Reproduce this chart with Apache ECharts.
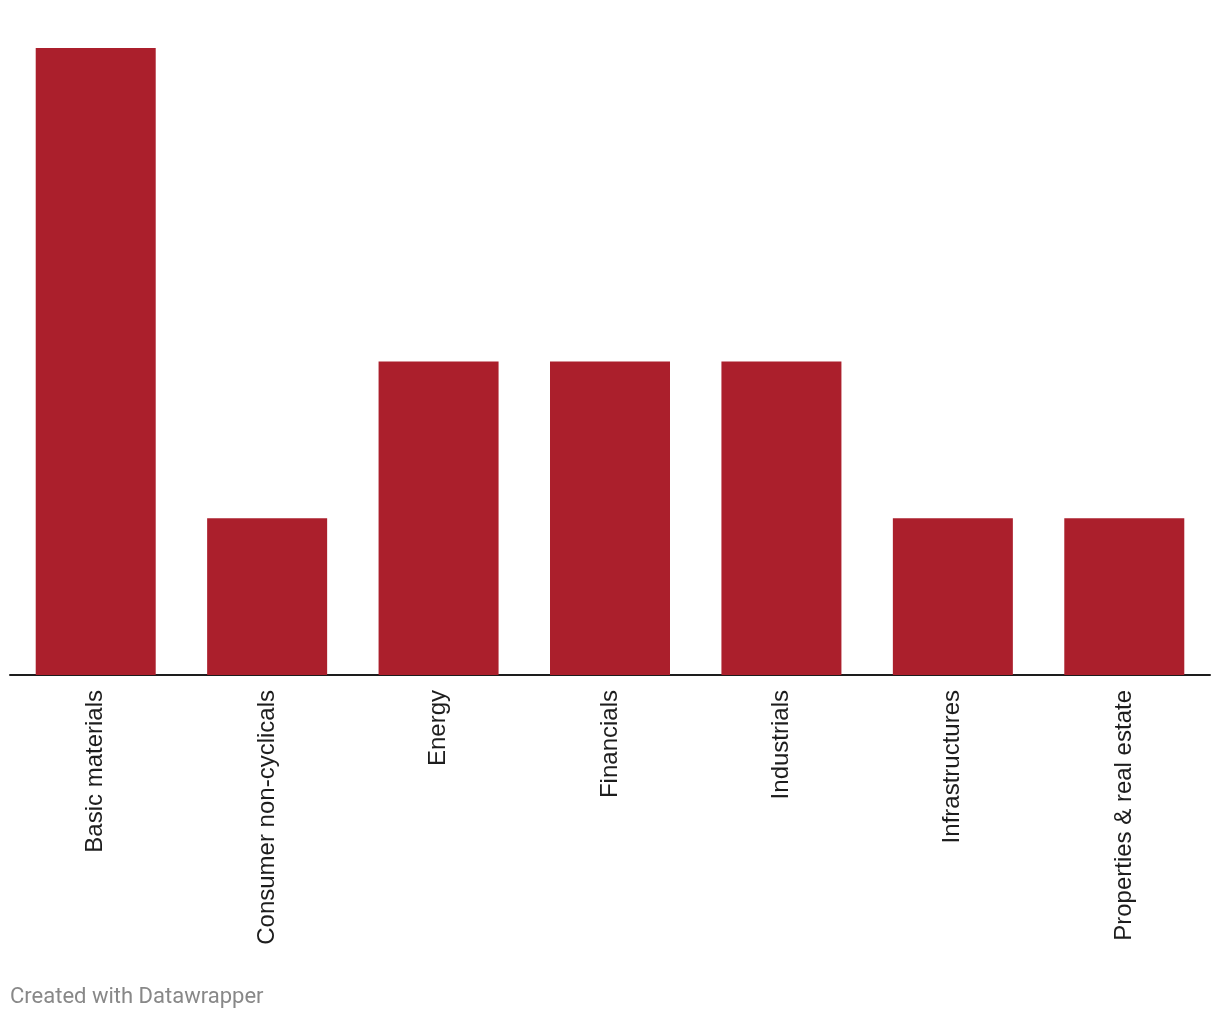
<!DOCTYPE html>
<html><head><meta charset="utf-8">
<script src="https://cdn.jsdelivr.net/npm/echarts@6/dist/echarts.min.js"></script>
<style>html,body{margin:0;padding:0;background:#fff}#c{width:1220px;height:1020px}</style>
</head><body><div id="c"></div>
<script>
const categories = ["Basic materials","Consumer non-cyclicals","Energy","Financials","Industrials","Infrastructures","Properties & real estate"];
const values = [4,1,2,2,2,1,1];
const chart = echarts.init(document.getElementById('c'), null, {renderer:'canvas'});
chart.setOption({
  animation:false,
  grid:{left:10,right:10,top:48,bottom:345,containLabel:false},
  xAxis:{type:'category',data:categories,
    axisLine:{lineStyle:{color:'#1d1d1d',width:2}},
    axisTick:{show:false},
    axisLabel:{rotate:90,margin:15,fontFamily:'Liberation Sans',fontSize:24,color:'#1d1d1d',interval:0}},
  yAxis:{type:'value',min:0,max:4,show:false,splitLine:{show:false}},
  series:[{type:'bar',data:values,barWidth:'70%',itemStyle:{color:'#ab1f2c'}}],
  graphic:[{type:'text',left:10,top:986,style:{text:'Created with Datawrapper',fontFamily:'Roboto',fontSize:22,fill:'#888888'}}]
});
</script></body></html>
